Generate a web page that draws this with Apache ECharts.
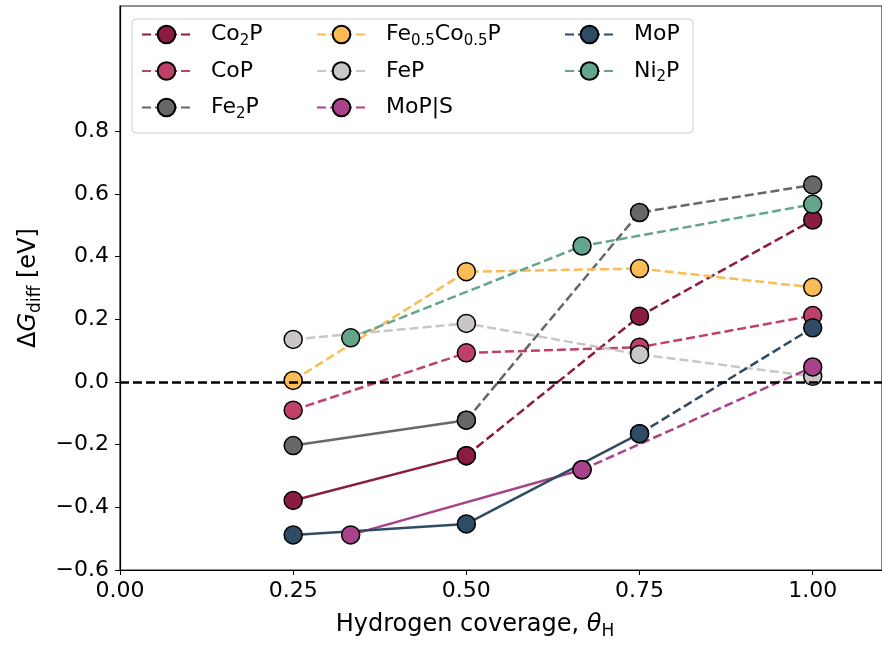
<!DOCTYPE html>
<html>
<head>
<meta charset="utf-8">
<script src="https://cdn.jsdelivr.net/npm/echarts@6/dist/echarts.min.js"></script>
<style>
html,body{margin:0;padding:0;background:#fff;}
#chart{width:882px;height:646px;}
</style>
</head>
<body>
<div id="chart"></div>
<script>
// ---- data ----
const xTicks = [0, 0.25, 0.5, 0.75, 1.0];
const yTicks = [-0.6, -0.4, -0.2, 0.0, 0.2, 0.4, 0.6, 0.8];

const co2pX = [0.25, 0.5, 0.75, 1.0];
const co2pY = [-0.378, -0.235, 0.210, 0.517];
const copX = [0.25, 0.5, 0.75, 1.0];
const copY = [-0.090, 0.093, 0.111, 0.212];
const fe2pX = [0.25, 0.5, 0.75, 1.0];
const fe2pY = [-0.203, -0.122, 0.541, 0.629];
const fecopX = [0.25, 0.5, 0.75, 1.0];
const fecopY = [0.005, 0.352, 0.362, 0.302];
const fepX = [0.25, 0.5, 0.75, 1.0];
const fepY = [0.136, 0.187, 0.088, 0.018];
const mopsX = [0.333, 0.667, 1.0];
const mopsY = [-0.488, -0.280, 0.048];
const mopX = [0.25, 0.5, 0.75, 1.0];
const mopY = [-0.488, -0.453, -0.165, 0.173];
const ni2pX = [0.333, 0.667, 1.0];
const ni2pY = [0.141, 0.434, 0.567];

// legend labels (rich text)
const labels = {
  'Co2P': '{n|Co}{s|2}{n|P}',
  'CoP': '{n|CoP}',
  'Fe2P': '{n|Fe}{s|2}{n|P}',
  'Fe0.5Co0.5P': '{n|Fe}{s|0.5}{n|Co}{s|0.5}{n|P}',
  'FeP': '{n|FeP}',
  'MoP|S': '{n|MoP|S}',
  'MoP': '{n|MoP}',
  'Ni2P': '{n|Ni}{s|2}{n|P}'
};

// ---- styling / series config ----
const compounds = [
  {name: 'Co2P', x: co2pX, y: co2pY, color: '#8a1b43', solid: 2},
  {name: 'CoP', x: copX, y: copY, color: '#bf4169', solid: 0},
  {name: 'Fe2P', x: fe2pX, y: fe2pY, color: '#676767', solid: 2},
  {name: 'Fe0.5Co0.5P', x: fecopX, y: fecopY, color: '#fbbb55', solid: 0},
  {name: 'FeP', x: fepX, y: fepY, color: '#c9c6c5', solid: 0},
  {name: 'MoP|S', x: mopsX, y: mopsY, color: '#a8438a', solid: 2},
  {name: 'MoP', x: mopX, y: mopY, color: '#2f4b66', solid: 3},
  {name: 'Ni2P', x: ni2pX, y: ni2pY, color: '#63a68b', solid: 0}
];

const dash = [9, 4];
const LW = 2.5;
const FONT = 'DejaVu Sans';
const series = [];
compounds.forEach(function (c) {
  const pts = c.x.map(function (v, i) { return [v, c.y[i]]; });
  const common = {
    type: 'line',
    symbol: 'circle',
    symbolSize: 18,
    itemStyle: {color: c.color, borderColor: '#000', borderWidth: 1.5},
    emphasis: {disabled: true},
    animation: false
  };
  if (c.solid >= 2) {
    series.push(Object.assign({}, common, {
      name: c.name + ' solid',
      data: pts.slice(0, c.solid),
      lineStyle: {color: c.color, width: LW, type: 'solid'}
    }));
  }
  const start = c.solid >= 2 ? c.solid - 1 : 0;
  series.push(Object.assign({}, common, {
    name: c.name,
    data: pts.slice(start),
    lineStyle: {color: c.color, width: LW, type: dash}
  }));
});

// zero reference line on top
series.push({
  type: 'line',
  name: 'zero',
  data: [],
  z: 5,
  markLine: {
    silent: true,
    symbol: ['none', 'none'],
    label: {show: false},
    lineStyle: {color: '#000', width: LW, type: dash},
    data: [{yAxis: 0}]
  }
});

// legends: column-major like matplotlib
const legendPos = [
  {name: 'Co2P', left: 141, cy: 37.5},
  {name: 'CoP', left: 141, cy: 74},
  {name: 'Fe2P', left: 141, cy: 110.5},
  {name: 'Fe0.5Co0.5P', left: 316, cy: 37.5},
  {name: 'FeP', left: 316, cy: 74},
  {name: 'MoP|S', left: 316, cy: 110.5},
  {name: 'MoP', left: 564, cy: 37.5},
  {name: 'Ni2P', left: 564, cy: 74}
];
const legends = legendPos.map(function (p) {
  return {
    data: [p.name],
    left: p.left,
    top: p.cy - 14,
    orient: 'vertical',
    itemWidth: 49,
    itemHeight: 22,
    selectedMode: false,
    padding: 0,
    formatter: function (n) { return labels[n]; },
    textStyle: {
      padding: [0, 0, 0, 15],
      rich: {
        n: {fontFamily: FONT, fontSize: 22, color: '#000', lineHeight: 28},
        s: {fontFamily: FONT, fontSize: 15, color: '#000', lineHeight: 15, verticalAlign: 'bottom'}
      }
    }
  };
});

const chart = echarts.init(document.getElementById('chart'), null, {renderer: 'canvas'});
chart.setOption({
  animation: false,
  backgroundColor: '#fff',
  textStyle: {fontFamily: FONT},
  grid: {left: 120, top: 6, bottom: 76, right: -10, show: true, borderColor: '#222', borderWidth: 1.2, containLabel: false},
  legend: legends,
  graphic: [{
    type: 'rect', z: 3,
    shape: {x: 132, y: 19, width: 561, height: 114, r: 4},
    style: {fill: 'rgba(255,255,255,0.8)', stroke: '#cccccc', lineWidth: 1}
  }],
  xAxis: {
    type: 'value', min: 0, max: 1.1, interval: 0.25,
    splitLine: {show: false},
    axisLine: {show: true, onZero: false, lineStyle: {color: '#000', width: 1.2}},
    axisTick: {show: true, length: 5, lineStyle: {color: '#000', width: 1}, customValues: xTicks},
    axisLabel: {
      customValues: xTicks, margin: 10,
      fontFamily: FONT, fontSize: 22, color: '#000',
      formatter: function (v) { return v.toFixed(2); }
    },
    name: 'Hydrogen coverage, {i|θ}{s|H}',
    nameLocation: 'middle',
    nameGap: 40,
    nameTextStyle: {
      fontFamily: FONT, fontSize: 24, color: '#000', padding: [0, 52, 0, 0],
      rich: {
        i: {fontFamily: FONT, fontSize: 24, fontStyle: 'italic', color: '#000', lineHeight: 30},
        s: {fontFamily: FONT, fontSize: 17, color: '#000', lineHeight: 17, verticalAlign: 'bottom'}
      }
    }
  },
  yAxis: {
    type: 'value', min: -0.6, max: 1.2, interval: 0.2,
    splitLine: {show: false},
    axisLine: {show: true, onZero: false, lineStyle: {color: '#000', width: 1.2}},
    axisTick: {show: true, length: 5, lineStyle: {color: '#000', width: 1}, customValues: yTicks},
    axisLabel: {
      customValues: yTicks, margin: 11,
      fontFamily: FONT, fontSize: 22, color: '#000',
      formatter: function (v) { return v.toFixed(1).replace('-', '\u2212').replace('\u22120.0', '0.0'); }
    },
    name: '{n|Δ}{i|G}{s|diff}{n| [eV]}',
    nameLocation: 'middle',
    nameRotate: 90,
    nameGap: 76,
    nameTextStyle: {
      rich: {
        n: {fontFamily: FONT, fontSize: 24, color: '#000', lineHeight: 30},
        i: {fontFamily: FONT, fontSize: 24, fontStyle: 'italic', color: '#000', lineHeight: 30},
        s: {fontFamily: FONT, fontSize: 17, color: '#000', lineHeight: 17, verticalAlign: 'bottom'}
      }
    }
  },
  series: series
});
</script>
</body>
</html>
